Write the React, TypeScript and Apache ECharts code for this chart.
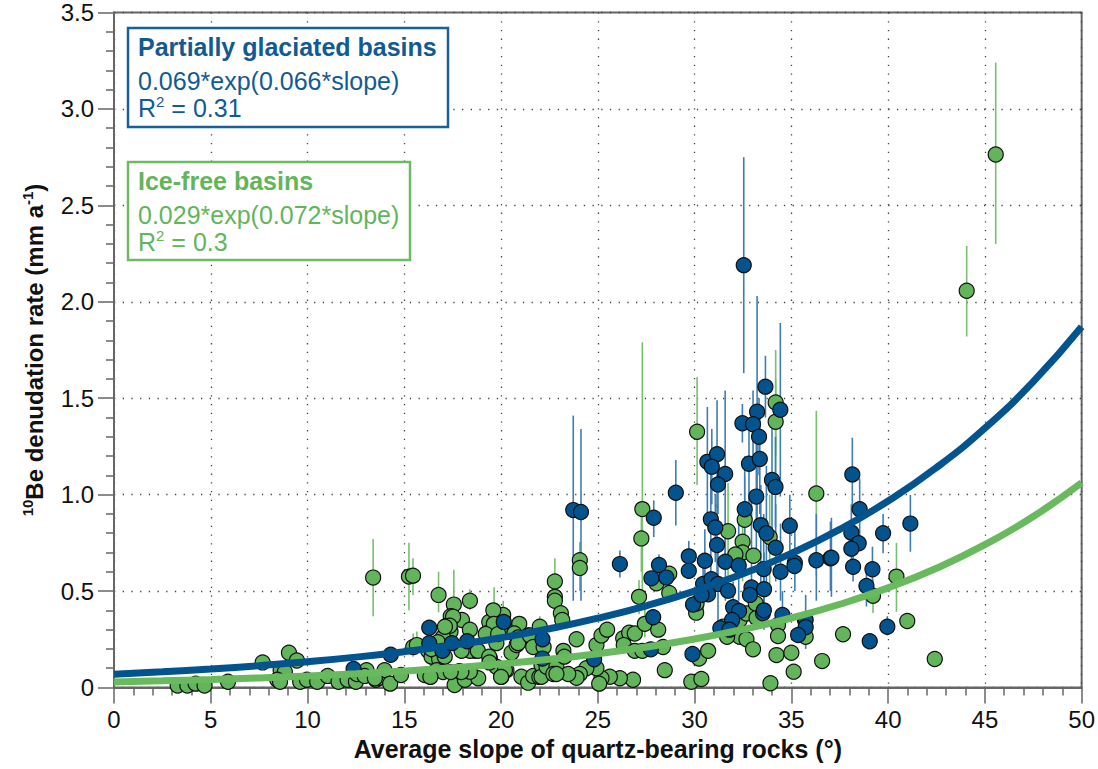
import React, { useEffect, useRef } from "react";
import * as echarts from "echarts";

// Ice-free basins: [slope, rate, low, high] (low/high = error bar ends, omitted when hidden)
const iceFreeBasins: number[][] = [
  [3.29, 0.01], [3.79, 0.01], [4.22, 0.02], [4.68, 0.01], [5.89, 0.03], [7.68, 0.13],
  [9.04, 0.18], [9.45, 0.14], [8.61, 0.09], [8.83, 0.08], [8.44, 0.04], [8.58, 0.03],
  [9.62, 0.03], [9.97, 0.04], [10.5, 0.03], [11.04, 0.06], [11.6, 0.03], [12.07, 0.04],
  [12.5, 0.03], [12.55, 0.07], [13.05, 0.09], [12.95, 0.06], [13.53, 0.04], [13.7, 0.05],
  [13.98, 0.09], [14.27, 0.02], [13.39, 0.57, 0.37, 0.77], [13.48, 0.048], [14.83, 0.065],
  [15.24, 0.575, 0.4, 0.75], [15.45, 0.58, 0.48, 0.67], [16.77, 0.48, 0.39, 0.6],
  [17.56, 0.43, 0.3, 0.61], [18.39, 0.45, 0.4, 0.51], [19.64, 0.39, 0.27, 0.52],
  [17.4, 0.37], [17.18, 0.32], [17.98, 0.35], [17.39, 0.29], [17.0, 0.26], [18.39, 0.3],
  [18.64, 0.19], [19.39, 0.34], [19.6, 0.31], [20.02, 0.36], [19.24, 0.28], [19.76, 0.23],
  [20.28, 0.3], [20.94, 0.33], [20.54, 0.18], [20.8, 0.22], [21.4, 0.27],
  [15.46, 0.21, 0.16, 0.28], [15.65, 0.22, 0.17, 0.29], [16.24, 0.19], [16.41, 0.16], [16.65, 0.185],
  [16.8, 0.146], [17.09, 0.16], [16.06, 0.065], [16.67, 0.09], [17.0, 0.08], [17.6, 0.07],
  [17.6, 0.013], [18.13, 0.04], [17.85, 0.085], [18.82, 0.048], [19.42, 0.15], [19.76, 0.108],
  [20.02, 0.056], [20.28, 0.09], [21.05, 0.056], [21.4, 0.025],
  [17.52, 0.367], [17.35, 0.32], [17.1, 0.315], [16.73, 0.235], [16.4, 0.2], [18.39, 0.19],
  [17.96, 0.19], [18.8, 0.19], [20.11, 0.376, 0.3, 0.45], [19.6, 0.4], [19.63, 0.33], [19.21, 0.277],
  [19.85, 0.277], [19.39, 0.16], [20.2, 0.09], [20.0, 0.055], [19.4, 0.13], [18.39, 0.082],
  [17.95, 0.08], [17.4, 0.08], [16.35, 0.055], [20.68, 0.28], [20.9, 0.26], [20.88, 0.23],
  [21.49, 0.27],
  [21.66, 0.06], [21.98, 0.055], [22.09, 0.117], [22.0, 0.315, 0.26, 0.37], [21.66, 0.21],
  [22.09, 0.056], [22.35, 0.108], [22.86, 0.108], [22.7, 0.07], [22.2, 0.21],
  [24.07, 0.66, 0.5, 0.755], [24.07, 0.62, 0.5, 0.7], [27.3, 0.925, 0.44, 1.79],
  [27.25, 0.773, 0.6, 0.95], [27.13, 0.47, 0.38, 0.557], [28.69, 0.49], [28.69, 0.59],
  [22.78, 0.55, 0.45, 0.67], [22.78, 0.47], [22.78, 0.45], [23.09, 0.385], [23.16, 0.35],
  [23.9, 0.25], [24.93, 0.22], [25.19, 0.27], [25.48, 0.3], [26.31, 0.255], [26.62, 0.284],
  [26.91, 0.28], [27.43, 0.33, 0.26, 0.42], [28.12, 0.3], [26.34, 0.22], [26.91, 0.19], [27.3, 0.19],
  [28.37, 0.21], [28.46, 0.09], [26.82, 0.04], [26.14, 0.048], [25.62, 0.056], [25.19, 0.048],
  [24.93, 0.1], [25.07, 0.02], [24.41, 0.1], [24.07, 0.07], [23.9, 0.05], [23.47, 0.07],
  [22.86, 0.07], [23.22, 0.19], [23.27, 0.16], [28.03, 0.54], [30.08, 0.388], [29.83, 0.03],
  [30.23, 0.15], [30.13, 1.326, 1.05, 1.61], [30.1, 0.436],
  [30.35, 0.044], [30.7, 0.19], [31.73, 0.81, 0.557, 1.06], [32.59, 0.87, 0.65, 1.1],
  [32.48, 0.756, 0.55, 0.95], [32.48, 0.7], [32.11, 0.69], [33.04, 0.683], [33.88, 0.78, 0.5, 1.0],
  [34.19, 1.478, 1.2, 1.75], [34.19, 1.378, 1.1, 1.6], [36.29, 1.006, 0.58, 1.435],
  [32.33, 0.35], [32.33, 0.263], [32.68, 0.25], [31.68, 0.263], [31.47, 0.315], [33.02, 0.198],
  [34.23, 0.168], [35.0, 0.18], [35.12, 0.082], [36.59, 0.137], [33.92, 0.022], [34.31, 0.324],
  [34.31, 0.267], [35.74, 0.263], [35.7, 0.35], [32.68, 0.384], [33.16, 0.436], [33.2, 0.36],
  [40.43, 0.575, 0.393, 0.75], [39.22, 0.476, 0.386, 0.56], [40.99, 0.345], [37.67, 0.276],
  [42.41, 0.148], [45.56, 2.764, 2.3, 3.24], [44.06, 2.057, 1.82, 2.29],
];

// Partially glaciated basins: [slope, rate, low, high]
const glaciatedBasins: number[][] = [
  [12.38, 0.096], [14.3, 0.17], [16.29, 0.31], [16.29, 0.23], [16.97, 0.19], [17.46, 0.23],
  [18.25, 0.24], [20.14, 0.34], [22.14, 0.25], [22.14, 0.15],
  [23.73, 0.92, 0.45, 1.41], [24.13, 0.91, 0.45, 1.34], [26.14, 0.64, 0.57, 0.71],
  [29.03, 1.01, 0.84, 1.18], [27.89, 0.88, 0.78, 0.97], [28.16, 0.635, 0.58, 0.69], [27.77, 0.566],
  [28.54, 0.57], [29.7, 0.68, 0.6, 0.76], [29.7, 0.605], [29.92, 0.43], [27.86, 0.364],
  [27.74, 0.198], [29.89, 0.174], [24.81, 0.146],
  [32.54, 2.19, 1.63, 2.75], [33.66, 1.56, 1.4, 1.72], [34.43, 1.44, 0.99, 1.89],
  [33.23, 1.43, 0.83, 2.03], [32.47, 1.37, 1.27, 1.47], [33.02, 1.365, 1.19, 1.54],
  [33.33, 1.3, 1.1, 1.5], [32.81, 1.16, 0.95, 1.37], [33.37, 1.185, 0.9, 1.45],
  [34.0, 1.076, 0.75, 1.4], [34.18, 1.04, 0.83, 1.3], [30.66, 1.17, 0.88, 1.455],
  [31.16, 1.21, 0.93, 1.49], [30.89, 1.145, 0.95, 1.34], [31.58, 1.107, 0.67, 1.54],
  [31.21, 1.053, 0.9, 1.2], [32.59, 0.924, 0.7, 1.2], [33.19, 0.99, 0.7, 1.3],
  [30.84, 0.872, 0.6, 1.15], [31.07, 0.83, 0.65, 1.0], [33.42, 0.842, 0.5, 1.05],
  [33.71, 0.8, 0.5, 1.15], [34.92, 0.839, 0.65, 1.0],
  [34.19, 0.725, 0.55, 0.95], [31.16, 0.739, 0.55, 0.95], [30.53, 0.657, 0.52, 0.82],
  [31.59, 0.652, 0.45, 0.85], [32.28, 0.633, 0.45, 0.85], [33.57, 0.614, 0.4, 0.9],
  [34.44, 0.6, 0.45, 0.85], [35.18, 0.647, 0.5, 0.85], [35.16, 0.63], [36.29, 0.66, 0.45, 0.9],
  [37.02, 0.67, 0.5, 0.86], [30.44, 0.537, 0.4, 0.68], [30.87, 0.561], [31.21, 0.537, 0.3, 0.75],
  [30.7, 0.483], [30.36, 0.48], [31.73, 0.502], [32.94, 0.519, 0.37, 0.97], [33.59, 0.51, 0.3, 0.7],
  [32.86, 0.48], [31.99, 0.416, 0.3, 0.55], [32.3, 0.397], [34.54, 0.376, 0.25, 0.5],
  [33.53, 0.385], [33.58, 0.4], [31.94, 0.35], [31.33, 0.307], [31.8, 0.3],
  [35.74, 0.35, 0.2, 0.48], [35.74, 0.312], [35.35, 0.272],
  [38.15, 1.105, 0.92, 1.295], [38.53, 0.924, 0.76, 1.084], [41.15, 0.85, 0.704, 0.998],
  [39.74, 0.8, 0.696, 0.9], [38.1, 0.803, 0.65, 0.95], [38.48, 0.748], [38.1, 0.72],
  [37.07, 0.673, 0.47, 0.88], [38.19, 0.626, 0.55, 0.72], [39.19, 0.613, 0.45, 0.73],
  [38.88, 0.526, 0.42, 0.6], [39.96, 0.315, 0.27, 0.37], [39.05, 0.24, 0.21, 0.27],
];

// Fitted curves as given in the legend: a*exp(b*slope)
const glaciatedFit = { a: 0.069, b: 0.066, r2: "0.31" };
const iceFreeFit = { a: 0.029, b: 0.072, r2: "0.3" };
const curveSlopes = [0, 2.5, 5, 7.5, 10, 12.5, 15, 17.5, 20, 22.5, 25, 27.5, 30, 32.5, 35, 37.5, 40, 42.5, 45, 47.5, 50];

const xTickLabels = ["0", "5", "10", "15", "20", "25", "30", "35", "40", "45", "50"];
const yTickLabels = ["0", "0.5", "1.0", "1.5", "2.0", "2.5", "3.0", "3.5"];

const BLUE = "#02538e";
const BLUE_ERR = "#3e7db3";
const BLUE_TEXT = "#125a94";
const GREEN = "#63b55b";
const GREEN_ERR = "#78c06e";
const FONT = "'Liberation Sans', Arial, Helvetica, sans-serif";

function errorData(rows: number[][]) {
  return rows.filter((r) => r.length >= 4).map((r) => [r[0], r[2], r[3]]);
}

function errorSeries(rows: number[][], color: string) {
  return {
    type: "custom",
    data: errorData(rows),
    encode: { x: 0, y: [1, 2] },
    renderItem: (_p: any, api: any) => {
      const x = api.value(0);
      const a = api.coord([x, api.value(1)]);
      const b = api.coord([x, api.value(2)]);
      return {
        type: "line",
        shape: { x1: a[0], y1: a[1], x2: b[0], y2: b[1] },
        style: { stroke: color, lineWidth: 1.6 },
      };
    },
    silent: true,
  };
}

function legendBox(x: number, y: number, w: number, h: number, color: string, textColor: string, title: string, eq: string, r2: string) {
  const base = { fontFamily: FONT, fontSize: 25, fill: textColor };
  return {
    type: "group",
    z: 100,
    children: [
      { type: "rect", z: 100, shape: { x, y, width: w, height: h }, style: { fill: "#fff", stroke: color, lineWidth: 2.5 } },
      { type: "text", z: 101, x: x + 10, y: y + 18.5, style: { ...base, text: title, fontWeight: "bold", verticalAlign: "middle" } },
      { type: "text", z: 101, x: x + 10, y: y + 52.5, style: { ...base, text: eq, verticalAlign: "middle" } },
      {
        type: "text", z: 101, x: x + 10, y: y + 80,
        style: {
          text: `{n|R}{s|2}{n| = ${r2}}`,
          verticalAlign: "middle",
          rich: {
            n: { fontFamily: FONT, fontSize: 25, fill: textColor, lineHeight: 28 },
            s: { fontFamily: FONT, fontSize: 15, fill: textColor, lineHeight: 14, verticalAlign: "top" },
          },
        },
      },
    ],
  };
}

export default function App() {
  const ref = useRef<HTMLDivElement>(null);
  useEffect(() => {
    if (!ref.current) return;
    const chart = echarts.init(ref.current, undefined, { renderer: "svg" });
    const axisColor = "#666";
    chart.setOption({
      animation: false,
      backgroundColor: "#fff",
      grid: { left: 114, right: 16, top: 12.5, bottom: 81.5, show: true, borderColor: axisColor, borderWidth: 2, backgroundColor: "transparent" },
      xAxis: {
        type: "value", min: 0, max: 50, interval: 5,
        name: "Average slope of quartz-bearing rocks (°)",
        nameLocation: "middle", nameGap: 42,
        nameTextStyle: { fontFamily: FONT, fontSize: 25, fontWeight: "bold", color: "#111" },
        axisLine: { show: true, onZero: false, lineStyle: { color: axisColor, width: 2 } },
        axisTick: { show: true, length: 16, lineStyle: { color: axisColor, width: 1.5 } },
        minorTick: { show: true, splitNumber: 5, length: 8, lineStyle: { color: axisColor, width: 1.5 } },
        axisLabel: { margin: 20, fontFamily: FONT, fontSize: 24, color: "#111", formatter: (v: number) => xTickLabels[Math.round(v / 5)] ?? String(v) },
        splitLine: { show: true, lineStyle: { color: "#444", width: 1.3, type: [1.3, 7.4] } },
      },
      yAxis: {
        type: "value", min: 0, max: 3.5, interval: 0.5,
        name: "{s|10}{b|Be denudation rate (mm a}{s|-1}{b|)}",
        nameLocation: "middle", nameGap: 66,
        nameTextStyle: {
          rich: {
            b: { fontFamily: FONT, fontSize: 24, fontWeight: "bold", color: "#111", lineHeight: 28 },
            s: { fontFamily: FONT, fontSize: 15, fontWeight: "bold", color: "#111", lineHeight: 14, verticalAlign: "top" },
          },
        },
        axisLine: { show: true, onZero: false, lineStyle: { color: axisColor, width: 2 } },
        axisTick: { show: true, length: 16, lineStyle: { color: axisColor, width: 1.5 } },
        minorTick: { show: true, splitNumber: 5, length: 8, lineStyle: { color: axisColor, width: 1.5 } },
        axisLabel: { margin: 20, fontFamily: FONT, fontSize: 24, color: "#111", formatter: (v: number) => yTickLabels[Math.round(v / 0.5)] ?? String(v) },
        splitLine: { show: true, lineStyle: { color: "#444", width: 1.3, type: [1.3, 7.4] } },
      },
      series: [
        {
          type: "line", showSymbol: false, silent: true,
          data: curveSlopes.map((s) => [s, iceFreeFit.a * Math.exp(iceFreeFit.b * s)]),
          lineStyle: { color: "#69b95f", width: 7 }, smooth: true,
        },
        {
          type: "line", showSymbol: false, silent: true,
          data: curveSlopes.map((s) => [s, glaciatedFit.a * Math.exp(glaciatedFit.b * s)]),
          lineStyle: { color: BLUE, width: 7 }, smooth: true,
        },
        errorSeries(iceFreeBasins, GREEN_ERR),
        {
          type: "scatter", symbol: "circle", symbolSize: 15,
          data: iceFreeBasins.map((r) => [r[0], r[1]]),
          itemStyle: { color: GREEN, borderColor: "#111", borderWidth: 1.2, opacity: 1 },
        },
        errorSeries(glaciatedBasins, BLUE_ERR),
        {
          type: "scatter", symbol: "circle", symbolSize: 15,
          data: glaciatedBasins.map((r) => [r[0], r[1]]),
          itemStyle: { color: BLUE, borderColor: "#111", borderWidth: 1.2, opacity: 1 },
        },
      ],
      graphic: {
        elements: [
          legendBox(128, 28, 320, 99, "#19609a", BLUE_TEXT, "Partially glaciated basins", `${glaciatedFit.a}*exp(${glaciatedFit.b}*slope)`, glaciatedFit.r2),
          legendBox(128, 162, 282, 98, "#6cbb63", GREEN, "Ice-free basins", `${iceFreeFit.a}*exp(${iceFreeFit.b}*slope)`, iceFreeFit.r2),
        ],
      },
    });
    return () => chart.dispose();
  }, []);
  return <div ref={ref} style={{ position: "absolute", left: 0, top: 0, width: 1098, height: 769 }} />;
}
